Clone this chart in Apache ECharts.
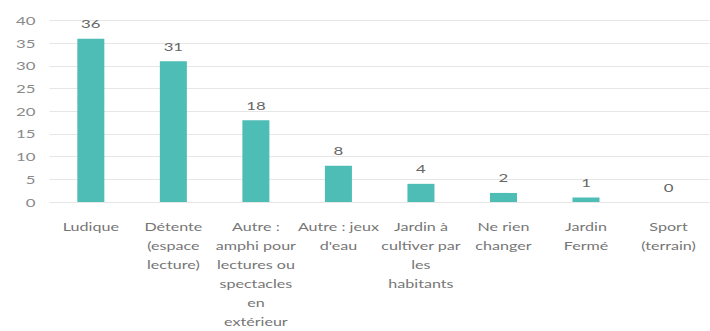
<!DOCTYPE html>
<html>
<head>
<meta charset="utf-8">
<script src="https://cdn.jsdelivr.net/npm/echarts@6/dist/echarts.min.js"></script>
<style>
  html, body { margin: 0; padding: 0; background: #fff; overflow: hidden; }
  /* l'image d'origine est étirée horizontalement : on rend plus étroit puis on étire */
  #chart { width: 507px; height: 331px; transform: scaleX(1.4); transform-origin: 0 0; }
</style>
</head>
<body>
<div id="chart"></div>
<script>
// catégories (retours à la ligne comme dans l'original)
const categories = [
    'Ludique',
    'Détente\n(espace\nlecture)',
    'Autre :\namphi pour\nlectures ou\nspectacles\nen\nextérieur',
    'Autre : jeux\nd\'eau',
    'Jardin à\ncultiver par\nles\nhabitants',
    'Ne rien\nchanger',
    'Jardin\nFermé',
    'Sport\n(terrain)'
];
const values = [36, 31, 18, 8, 4, 2, 1, 0];
const yTicks = [0, 5, 10, 15, 20, 25, 30, 35, 40];

const chart = echarts.init(document.getElementById('chart'), null, { renderer: 'svg' });

chart.setOption({
    animation: false,
    textStyle: { fontFamily: 'Lato' },
    grid: { left: 35.4, top: 20.5, width: 480, height: 184 },
    xAxis: {
        type: 'category',
        data: categories,
        axisLine: { show: false },
        axisTick: { show: false },
        axisLabel: { color: '#767676', fontSize: 11.5, lineHeight: 19, margin: 15, interval: 0, fontFamily: 'Lato' }
    },
    yAxis: {
        type: 'value',
        min: yTicks[0],
        max: yTicks[yTicks.length - 1],
        interval: 5,
        axisLine: { show: false },
        axisTick: { show: false },
        axisLabel: { color: '#8a8a8a', fontSize: 12, margin: 10, fontFamily: 'Lato' },
        splitLine: { lineStyle: { color: '#e6e6e6', width: 1 } }
    },
    series: [{
        type: 'bar',
        data: values,
        barWidth: 19.3,
        itemStyle: { color: '#4dbdb6' },
        label: { show: true, position: 'top', distance: 9, color: '#666', fontSize: 12, fontFamily: 'Lato' }
    }]
});
</script>
</body>
</html>
